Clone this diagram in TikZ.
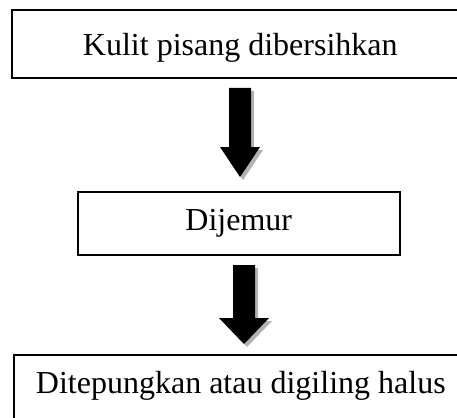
\documentclass[tikz,border=0pt]{standalone}
\usepackage{fontspec}
\setmainfont{Liberation Serif}
\begin{document}
\begin{tikzpicture}[x=1pt,y=-1pt,
  stepbox/.style={draw=black,line width=1.6pt,inner xsep=0pt,inner ysep=0pt,
    anchor=north west,font=\fontsize{32}{38}\selectfont,align=center},
  blockarrow/.style={fill=black},
  arrowshadow/.style={fill=black!30}]
\useasboundingbox (0,0) rectangle (457,417);
\clip (0,0) rectangle (457,417);
\fill[white] (0,0) rectangle (457,417);
\node[stepbox,minimum width=457pt,text height=46pt,text depth=22pt] (s1) at (11,9) {Kulit pisang dibersihkan};
\node[stepbox,minimum width=322pt,text height=39pt,text depth=24pt] (s2) at (77,191) {Dijemur};
\node[stepbox,minimum width=454pt,text height=39pt,text depth=37pt] (s3) at (13,354) {Ditepungkan atau digiling halus};
% arrow 1
\coordinate (a1) at (240,88);
\fill[arrowshadow] ([shift={(3,3)}]a1) ++(-11,0) -- ++(22,0) -- ++(0,59) -- ++(9,0) -- ++(-20,30) -- ++(-20,-30) -- ++(9,0) -- cycle;
\fill[blockarrow] (a1) ++(-11,0) -- ++(22,0) -- ++(0,59) -- ++(9,0) -- ++(-20,30) -- ++(-20,-30) -- ++(9,0) -- cycle;
% arrow 2
\coordinate (a2) at (244,265);
\fill[arrowshadow] ([shift={(3,3)}]a2) ++(-11,0) -- ++(22,0) -- ++(0,53) -- ++(14,0) -- ++(-25,26) -- ++(-25,-26) -- ++(14,0) -- cycle;
\fill[blockarrow] (a2) ++(-11,0) -- ++(22,0) -- ++(0,53) -- ++(14,0) -- ++(-25,26) -- ++(-25,-26) -- ++(14,0) -- cycle;
\end{tikzpicture}
\end{document}
